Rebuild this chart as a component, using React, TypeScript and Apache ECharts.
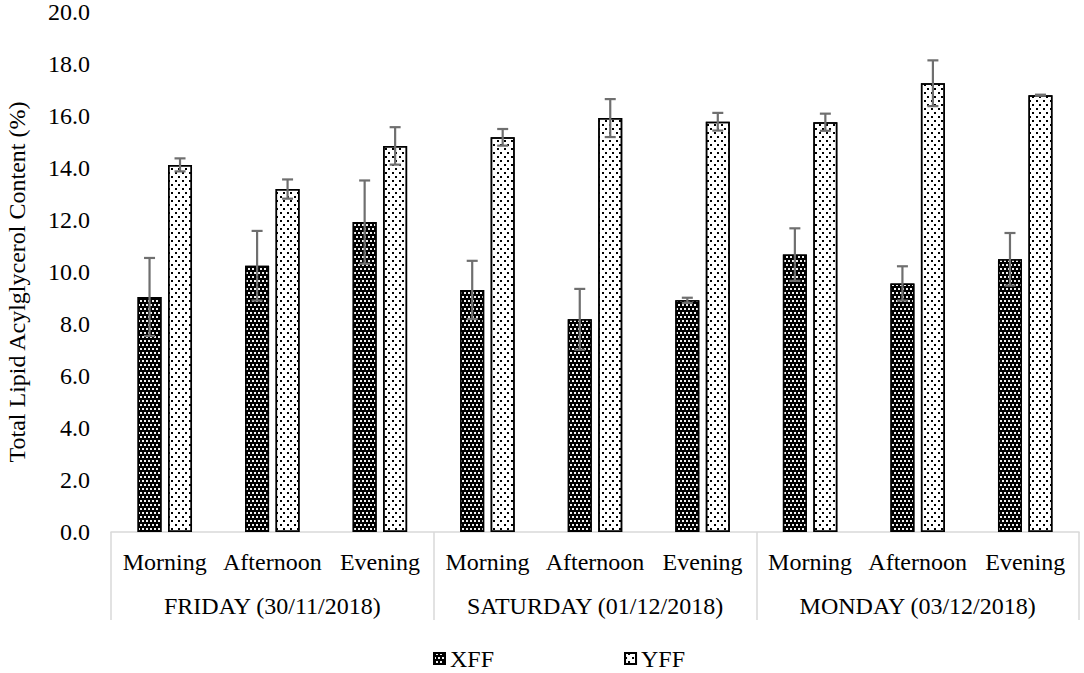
import React, { useEffect, useRef } from "react";
import * as echarts from "echarts";

const timeLabels = ["Morning", "Afternoon", "Evening", "Morning", "Afternoon", "Evening", "Morning", "Afternoon", "Evening"];
const dayLabels = ["FRIDAY (30/11/2018)", "SATURDAY (01/12/2018)", "MONDAY (03/12/2018)"];
const xffValues = [9.04, 10.24, 11.92, 9.31, 8.18, 8.91, 10.67, 9.56, 10.49];
const xffErrors = [1.5, 1.34, 1.6, 1.12, 1.17, 0.1, 1.01, 0.66, 1.01];
const yffValues = [14.12, 13.19, 14.85, 15.18, 15.92, 15.78, 15.76, 17.26, 16.8];
const yffErrors = [0.25, 0.37, 0.72, 0.32, 0.73, 0.34, 0.33, 0.88, 0.02];

const FONT = "'Liberation Serif', 'Times New Roman', serif";
const BAR_WIDTH = 24;
const BAR_GAP = 0.27;

export default function App() {
  const ref = useRef<HTMLDivElement>(null);
  useEffect(() => {
    document.body.style.margin = "0";
    const chart = echarts.init(ref.current!, null, { renderer: "svg" });
    const offset = (BAR_WIDTH * (1 + BAR_GAP)) / 2;
    const errSeries = (name: string, vals: number[], errs: number[], dir: number) => ({
      type: "custom",
      name: name + "-err",
      xAxisIndex: 0,
      z: 10,
      silent: true,
      data: vals.map((v, i) => [i, v, errs[i]]),
      encode: { x: 0, y: 1 },
      renderItem: (params: any, api: any) => {
        const i = api.value(0);
        const v = api.value(1);
        const e = api.value(2);
        const top = api.coord([i, v + e]);
        const bot = api.coord([i, v - e]);
        const x = top[0] + dir * offset;
        const cap = 5.5;
        const style = { stroke: "#6f6f6f", lineWidth: 2.2 };
        return {
          type: "group",
          children: [
            { type: "line", shape: { x1: x, y1: top[1], x2: x, y2: bot[1] }, style },
            { type: "line", shape: { x1: x - cap, y1: top[1], x2: x + cap, y2: top[1] }, style },
            { type: "line", shape: { x1: x - cap, y1: bot[1], x2: x + cap, y2: bot[1] }, style },
          ],
        };
      },
    });
    chart.setOption({
      animation: false,
      textStyle: { fontFamily: FONT, color: "#000" },
      grid: { left: 111, right: 5, top: 12, bottom: 141, containLabel: false },
      legend: {
        data: ["XFF", "YFF"],
        left: 433,
        top: 646,
        padding: 0,
        icon: "rect",
        itemWidth: 11,
        itemHeight: 11,
        itemGap: 130,
        textStyle: { fontFamily: FONT, fontSize: 24, lineHeight: 25, color: "#000" },
      },
      xAxis: [
        {
          type: "category",
          data: timeLabels,
          axisLine: { lineStyle: { color: "#d9d9d9", width: 1.5 } },
          axisTick: { show: false },
          axisLabel: { interval: 0, margin: 18, fontSize: 24, fontFamily: FONT, color: "#000" },
        },
        {
          type: "category",
          data: dayLabels,
          position: "bottom",
          axisLine: { show: false },
          axisTick: { show: true, length: 88, interval: 0, lineStyle: { color: "#d9d9d9", width: 1.5 } },
          axisLabel: { interval: 0, margin: 62, fontSize: 24, fontFamily: FONT, color: "#000" },
        },
      ],
      yAxis: {
        type: "value",
        min: 0,
        max: 20,
        interval: 2,
        axisLine: { show: false },
        axisTick: { show: false },
        splitLine: { show: false },
        axisLabel: {
          margin: 21,
          fontSize: 24,
          fontFamily: FONT,
          color: "#000",
          formatter: (v: number) => v.toFixed(1),
        },
      },
      graphic: [
        {
          type: "text",
          x: 17,
          y: 282,
          rotation: Math.PI / 2,
          style: {
            text: "Total Lipid Acylglycerol Content (%)",
            fontFamily: FONT,
            fontSize: 24,
            fill: "#000",
            textAlign: "center",
            textVerticalAlign: "middle",
          },
        },
      ],
      series: [
        {
          type: "bar",
          name: "XFF",
          data: xffValues,
          barWidth: BAR_WIDTH,
          barGap: BAR_GAP * 100 + "%",
          itemStyle: {
            color: "#000",
            borderColor: "#000",
            borderWidth: 1.5,
            decal: {
              symbol: "rect",
              symbolSize: 0.95,
              color: "#ffffff",
              dashArrayX: [[2, 2], [0, 2, 2, 0]],
              dashArrayY: [2, 2],
            },
          },
        },
        {
          type: "bar",
          name: "YFF",
          data: yffValues,
          barWidth: BAR_WIDTH,
          barGap: BAR_GAP * 100 + "%",
          itemStyle: {
            color: "#fff",
            borderColor: "#000",
            borderWidth: 1.5,
            decal: {
              symbol: "rect",
              symbolSize: 1,
              color: "#000",
              dashArrayX: [[1.6, 4.4], [0, 3, 1.6, 1.4]],
              dashArrayY: [1.6, 1.6],
            },
          },
        },
        errSeries("XFF", xffValues, xffErrors, -1),
        errSeries("YFF", yffValues, yffErrors, 1),
      ],
    });
    return () => chart.dispose();
  }, []);
  return <div ref={ref} style={{ width: 1084, height: 673 }} />;
}
